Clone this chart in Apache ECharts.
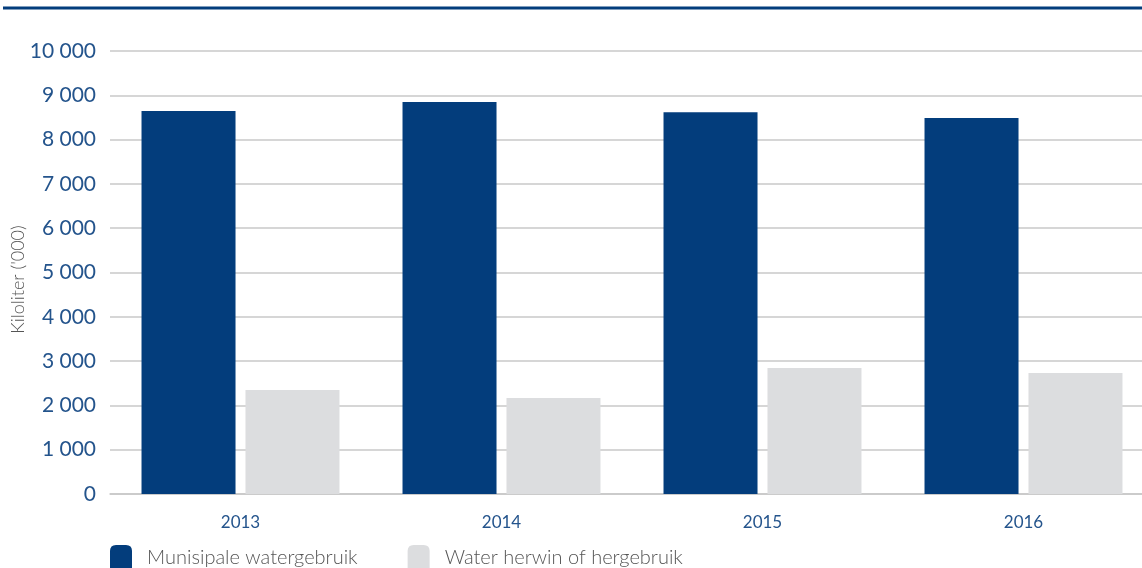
<!doctype html>
<html>
<head>
	<meta charset="utf-8">
	<script type="text/javascript" src="https://cdn.jsdelivr.net/npm/echarts@6/dist/echarts.min.js"></script>
	<style>
		html, body { margin: 0; padding: 0; background: #fff; }
		#chart { width: 1142px; height: 568px; }
	</style>
</head>
<body>
<div id="chart"></div>
<script>
	// data
	var years = ['2013', '2014', '2015', '2016'];
	var municipal = [8645, 8850, 8620, 8490];
	var recycled = [2350, 2165, 2845, 2730];
	var seriesNames = ['Munisipale watergebruik', 'Water herwin of hergebruik'];

	var blue = '#033d7c';
	var grey = '#dcdddf';
	var labelBlue = '#24548c';
	var font = 'Lato, "Open Sans", sans-serif';

	function fmt(v) {
		return String(v).replace(/\B(?=(\d{3})+(?!\d))/g, ' ');
	}

	var myChart = echarts.init(document.getElementById('chart'));
	var option = {
		backgroundColor: '#fff',
		animation: false,
		graphic: [{
			type: 'line',
			shape: { x1: 3, y1: 8, x2: 1142, y2: 8 },
			style: { stroke: blue, lineWidth: 3 }
		}],
		legend: {
			data: seriesNames,
			left: 110,
			top: 545,
			padding: 0,
			itemWidth: 22,
			itemHeight: 26,
			itemGap: 50,
			icon: 'path://M0,6 Q0,0 6,0 L16,0 Q22,0 22,6 L22,26 L0,26 Z',
			textStyle: {
				color: '#555',
				fontSize: 20,
				fontFamily: font,
				fontWeight: 300,
				padding: [0, 0, 0, 10]
			}
		},
		grid: {
			left: 110,
			top: 51,
			width: 1044,
			bottom: 74,
			containLabel: false,
			outerBoundsMode: 'none'
		},
		xAxis: {
			type: 'category',
			data: years,
			axisLine: { show: true, lineStyle: { color: '#c8c8c8', width: 1.5 } },
			axisTick: { show: false },
			axisLabel: {
				color: labelBlue,
				fontSize: 17,
				fontFamily: font,
				margin: 20
			}
		},
		yAxis: {
			type: 'value',
			min: 0,
			max: 10000,
			interval: 1000,
			name: "Kiloliter ('000)",
			nameLocation: 'middle',
			nameGap: 83,
			nameMoveOverlap: false,
			nameTextStyle: { color: '#555', fontSize: 18, fontFamily: font, fontWeight: 300, padding: [0, 14, 0, 0] },
			axisLine: { show: false },
			axisTick: { show: false },
			axisLabel: {
				color: labelBlue,
				fontSize: 21,
				fontFamily: font,
				margin: 14,
				formatter: fmt
			},
			splitLine: { lineStyle: { color: '#c8c8c8', width: 1.5 } }
		},
		series: [{
			name: seriesNames[0],
			type: 'bar',
			data: municipal,
			barWidth: 94,
			barGap: '10.6%',
			itemStyle: { color: blue }
		}, {
			name: seriesNames[1],
			type: 'bar',
			data: recycled,
			barWidth: 94,
			barGap: '10.6%',
			itemStyle: { color: grey }
		}]
	};
	myChart.setOption(option);
</script>
</body>
</html>
